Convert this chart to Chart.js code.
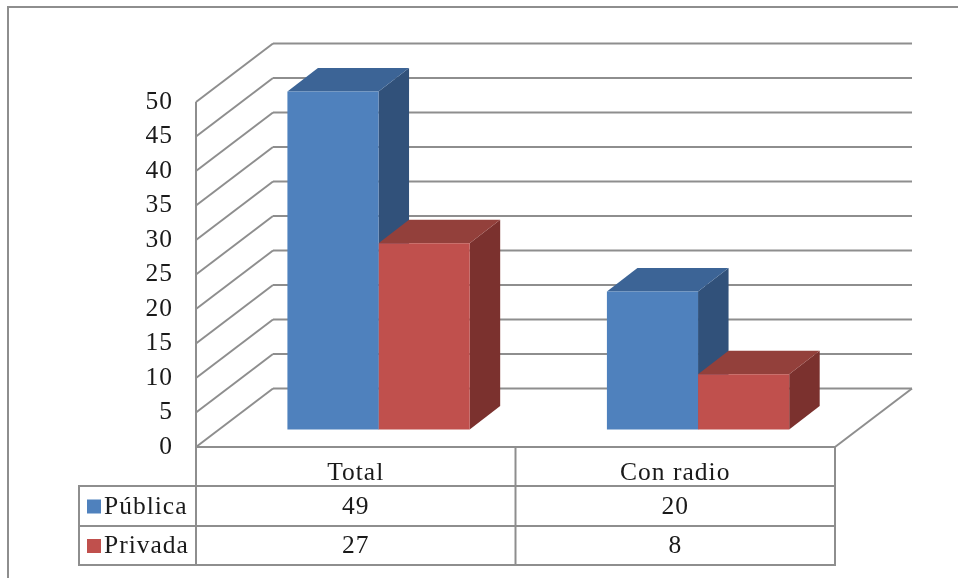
<!DOCTYPE html>
<html>
<head>
<meta charset="utf-8">
<title>Pública / Privada</title>
<script src="https://cdn.jsdelivr.net/npm/chart.js@4"></script>
<style>
  html, body { margin: 0; padding: 0; background: #fff; }
  canvas { display: block; filter: blur(0.4px); }
</style>
</head>
<body>
<canvas id="barChart" width="958" height="578"></canvas>
<script>
const categories = ["Total", "Con radio"];
const seriesNames = ["Pública", "Privada"];
const publica = [49, 20];
const privada = [27, 8];

const LINE = "#8e8e8e";
const TEXT = "#1a1a1a";
const FONT = { family: "'Liberation Serif', serif", size: 25.5 };

// colours per series: front, top, side
const faces = [
  { front: "#4f81bd", top: "#3c6496", side: "#31517a" },
  { front: "#c0504d", top: "#93403b", side: "#7b312e" }
];

// 3d offsets
const wallDepth = { x: 77, y: -58.5 };
const barDepth = { x: 30.5, y: -23.5 };
const barShift = { x: 22.8, y: -17.5 };

function line(ctx, x1, y1, x2, y2) {
  ctx.beginPath();
  ctx.moveTo(x1, y1);
  ctx.lineTo(x2, y2);
  ctx.stroke();
}

function poly(ctx, pts, color) {
  ctx.fillStyle = color;
  ctx.beginPath();
  pts.forEach((p, i) => i ? ctx.lineTo(p[0], p[1]) : ctx.moveTo(p[0], p[1]));
  ctx.closePath();
  ctx.fill();
}

const scene3d = {
  id: "scene3d",
  beforeDraw(chart) {
    chart.ctx.letterSpacing = "1px";
  },
  beforeDatasetsDraw(chart) {
    const { ctx, chartArea: a, scales: { y } } = chart;
    const right = a.right;

    ctx.save();
    ctx.strokeStyle = LINE;
    ctx.lineWidth = 2;

    // outer frame, only top and left show in the picture
    line(ctx, 8, 578, 8, 7);
    line(ctx, 7, 7, 958, 7);

    // walls
    y.ticks.forEach(t => {
      const py = y.getPixelForValue(t.value);
      line(ctx, a.left, py, a.left + wallDepth.x, py + wallDepth.y);
      line(ctx, a.left + wallDepth.x, py + wallDepth.y, right + wallDepth.x, py + wallDepth.y);
    });
    line(ctx, right, a.bottom, right + wallDepth.x, a.bottom + wallDepth.y);
    ctx.restore();

    // bar sides and tops, then the library draws the fronts over them
    ctx.save();
    ctx.translate(barShift.x, barShift.y);
    chart.data.datasets.forEach((ds, i) => {
      chart.getDatasetMeta(i).data.forEach(bar => {
        const l = bar.x - bar.width / 2;
        const r = bar.x + bar.width / 2;
        const dx = barDepth.x, dy = barDepth.y;
        poly(ctx, [[r, bar.y], [r + dx, bar.y + dy], [r + dx, bar.base + dy], [r, bar.base]], faces[i].side);
        poly(ctx, [[l, bar.y], [l + dx, bar.y + dy], [r + dx, bar.y + dy], [r, bar.y]], faces[i].top);
      });
    });
  },
  afterDatasetsDraw(chart) {
    chart.ctx.restore();
  },
  afterDraw(chart) {
    const { ctx, chartArea: a, scales: { x } } = chart;
    const rows = [486, 526, 565];
    const legendLeft = 79;
    const mid = (x.getPixelForValue(0) + x.getPixelForValue(1)) / 2;

    ctx.save();
    ctx.strokeStyle = LINE;
    ctx.lineWidth = 2;
    line(ctx, a.left, a.top, a.left, rows[2]);
    line(ctx, a.left - 1, a.bottom, a.right + 1, a.bottom);
    line(ctx, mid, a.bottom, mid, rows[2]);
    line(ctx, a.right, a.bottom, a.right, rows[2]);
    line(ctx, legendLeft, rows[0], legendLeft, rows[2]);
    rows.forEach(r => line(ctx, legendLeft - 1, r, a.right + 1, r));

    ctx.font = `${FONT.size}px ${FONT.family}`;
    ctx.textBaseline = "middle";
    [publica, privada].forEach((vals, i) => {
      const cy = (rows[i] + rows[i + 1]) / 2 + 1;
      ctx.fillStyle = faces[i].front;
      ctx.fillRect(87, cy - 7.5, 14, 14);
      ctx.fillStyle = TEXT;
      ctx.textAlign = "left";
      ctx.fillText(seriesNames[i], 104, cy);
      ctx.textAlign = "center";
      vals.forEach((v, j) => ctx.fillText(String(v), x.getPixelForValue(j), cy));
    });
    ctx.restore();
  }
};

new Chart(document.getElementById("barChart"), {
  type: "bar",
  data: {
    labels: categories,
    datasets: [
      { label: seriesNames[0], data: publica, backgroundColor: faces[0].front },
      { label: seriesNames[1], data: privada, backgroundColor: faces[1].front }
    ]
  },
  options: {
    responsive: false,
    animation: false,
    clip: false,
    categoryPercentage: 0.5705,
    barPercentage: 1,
    layout: { padding: { left: 0, top: 102, right: 123, bottom: 92 } },
    plugins: {
      legend: { display: false },
      tooltip: { enabled: false },
      title: { display: false }
    },
    scales: {
      x: {
        grid: { display: false },
        border: { display: false },
        ticks: { color: TEXT, font: FONT, padding: 3, maxRotation: 0 },
        afterFit: s => { s.height = 39; }
      },
      y: {
        min: 0,
        max: 50,
        grid: { display: false },
        border: { display: false },
        ticks: { stepSize: 5, color: TEXT, font: FONT, padding: 15 },
        afterFit: s => { s.width = 196; }
      }
    }
  },
  plugins: [scene3d]
});
</script>
</body>
</html>
